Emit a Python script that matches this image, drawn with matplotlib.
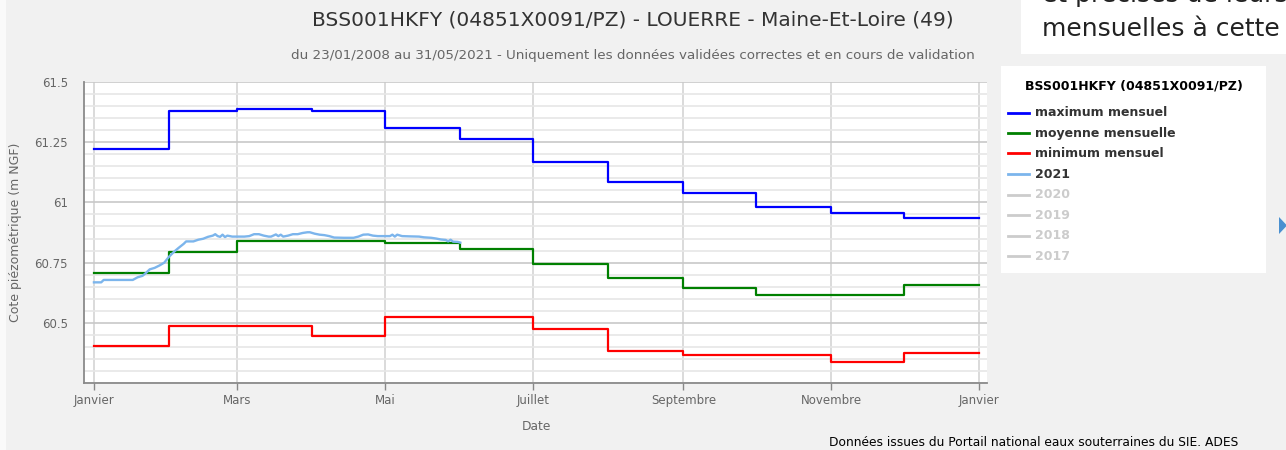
import matplotlib
matplotlib.use("Agg")
import matplotlib.pyplot as plt
from matplotlib.lines import Line2D
from matplotlib.patches import Rectangle, Polygon
from matplotlib.ticker import FixedLocator, FixedFormatter

# ---------------- data ----------------
month_start_days = [0, 31, 59, 90, 120, 151, 181, 212, 243, 273, 304, 334, 365]
maximum_mensuel = [61.221, 61.379, 61.388, 61.381, 61.307, 61.265, 61.168, 61.085, 61.039, 60.979, 60.956, 60.936]
moyenne_mensuelle = [60.707, 60.796, 60.838, 60.838, 60.832, 60.807, 60.746, 60.686, 60.646, 60.615, 60.616, 60.657]
minimum_mensuel = [60.404, 60.486, 60.486, 60.445, 60.526, 60.526, 60.476, 60.383, 60.367, 60.367, 60.336, 60.375]

days_2021 = [0, 3, 4, 16, 18, 20, 21, 23, 25, 27, 29, 31, 33, 35, 37, 38, 41, 43, 45, 47,
             49, 50, 51, 52, 53, 54, 55, 57, 60, 62, 64, 66, 68, 70, 72, 73, 75, 76, 77, 78,
             80, 82, 84, 86, 88, 89, 91, 93, 95, 97, 99, 103, 107, 109, 111, 113, 115, 117, 120, 122,
             123, 124, 125, 127, 130, 134, 136, 139, 141, 143, 145, 146, 147, 148, 150, 151]
level_2021 = [60.668, 60.668, 60.678, 60.678, 60.689, 60.695, 60.703, 60.722, 60.728, 60.738,
              60.750, 60.775, 60.795, 60.812, 60.828, 60.838, 60.838, 60.845, 60.849, 60.857,
              60.862, 60.868, 60.860, 60.857, 60.866, 60.856, 60.862, 60.858, 60.858, 60.858,
              60.860, 60.868, 60.868, 60.862, 60.858, 60.858, 60.867, 60.860, 60.866, 60.858,
              60.862, 60.868, 60.868, 60.873, 60.876, 60.876, 60.870, 60.866, 60.864, 60.860,
              60.854, 60.853, 60.853, 60.858, 60.866, 60.867, 60.862, 60.860, 60.860, 60.860,
              60.866, 60.858, 60.866, 60.860, 60.859, 60.858, 60.855, 60.853, 60.850, 60.846,
              60.844, 60.838, 60.845, 60.837, 60.836, 60.833]

x_tick_days = [0, 59, 120, 181, 243, 304, 365]
x_tick_labels = ["Janvier", "Mars", "Mai", "Juillet", "Septembre", "Novembre", "Janvier"]
y_tick_values = [60.5, 60.75, 61.0, 61.25, 61.5]
y_tick_labels = ["60.5", "60.75", "61", "61.25", "61.5"]
y_minor_values = [60.25, 60.3, 60.35, 60.4, 60.45, 60.55, 60.6, 60.65, 60.7, 60.8, 60.85, 60.9,
                  60.95, 61.05, 61.1, 61.15, 61.2, 61.3, 61.35, 61.4, 61.45]

legend_title = "BSS001HKFY (04851X0091/PZ)"
legend_labels = ["maximum mensuel", "moyenne mensuelle", "minimum mensuel", "2021",
                 "2020", "2019", "2018", "2017"]

# ---------------- figure ----------------
W, H = 1286, 450
BG = "#f1f1f1"
fig = plt.figure(figsize=(W / 100, H / 100), dpi=100, facecolor=BG)
plt.rcParams['font.family'] = ['DejaVu Sans']


def fx(px):
    return px / W


def fy(py):
    return 1 - py / H


# light strip at far left
fig.patches.append(Rectangle((0, 0), fx(6), 1, transform=fig.transFigure,
                             facecolor="#fafafa", edgecolor="none", zorder=0))

ax = fig.add_axes([fx(84), fy(383), fx(987 - 84), (383 - 82) / H])
ax.set_facecolor("white")

ax.set_xlim(-4.1, 368.1)
ax.set_ylim(60.25, 61.5)

ax.step(month_start_days, maximum_mensuel + [maximum_mensuel[-1]], where="post",
        color="#0000ff", lw=1.6, zorder=3)
ax.step(month_start_days, moyenne_mensuelle + [moyenne_mensuelle[-1]], where="post",
        color="#008000", lw=1.6, zorder=3)
ax.step(month_start_days, minimum_mensuel + [minimum_mensuel[-1]], where="post",
        color="#ff0000", lw=1.6, zorder=3)
ax.plot(days_2021, level_2021, color="#7cb5ec", lw=1.7, zorder=4)

# ticks & grid
ax.xaxis.set_major_locator(FixedLocator(x_tick_days))
ax.xaxis.set_major_formatter(FixedFormatter(x_tick_labels))
ax.yaxis.set_major_locator(FixedLocator(y_tick_values))
ax.yaxis.set_major_formatter(FixedFormatter(y_tick_labels))
ax.yaxis.set_minor_locator(FixedLocator(y_minor_values))

ax.grid(axis="x", which="major", color="#d4d4d4", lw=1.2, zorder=1)
ax.grid(axis="y", which="major", color="#c8c8c8", lw=1.2, zorder=1)
ax.grid(axis="y", which="minor", color="#e6e6e6", lw=1.2, zorder=1)
ax.set_axisbelow(True)

ax.tick_params(axis="x", which="major", length=5, width=1, color="#888888",
               labelsize=8.5, labelcolor="#666666", pad=3)
ax.tick_params(axis="y", which="both", length=0, labelsize=8.5, labelcolor="#666666", pad=11.5)
for lbl in ax.get_yticklabels():
    lbl.set_y(lbl.get_position()[1])

for s in ("top", "right"):
    ax.spines[s].set_visible(False)
for s in ("left", "bottom"):
    ax.spines[s].set_color("#8a8a8a")
    ax.spines[s].set_linewidth(1.3)

ax.set_ylabel("Cote piézométrique (m NGF)", fontsize=9, color="#666666")
ax.yaxis.set_label_coords((22 - 84) / (987 - 84), 0.5)

# texts
fig.text(fx(633), fy(20), "BSS001HKFY (04851X0091/PZ) - LOUERRE - Maine-Et-Loire (49)",
         ha="center", va="center", fontsize=14.5, color="#333333")
fig.text(fx(633), fy(55),
         "du 23/01/2008 au 31/05/2021 - Uniquement les données validées correctes et en cours de validation",
         ha="center", va="center", fontsize=9.7, color="#666666")
fig.text(fx(536), fy(427), "Date", ha="center", va="center", fontsize=8.8, color="#666666")
fig.text(fx(1238), fy(443), "Données issues du Portail national eaux souterraines du SIE. ADES",
         ha="right", va="center", fontsize=8.85, color="#000000")

# legend box (manual)
fig.patches.append(Rectangle((fx(1001), fy(273)), fx(1266 - 1001), (273 - 66) / H,
                             transform=fig.transFigure, facecolor="white", edgecolor="none", zorder=1))
fig.text(fx(1134), fy(86), legend_title, ha="center", va="center", fontsize=9,
         fontweight="bold", color="#000000", zorder=2)
legend_colors = ["#0000ff", "#008000", "#ff0000", "#7cb5ec",
                 "#cccccc", "#cccccc", "#cccccc", "#cccccc"]
legend_text_colors = ["#333333"] * 4 + ["#cccccc"] * 4
legend_rows = [112.5, 133, 153, 174, 194.5, 215, 235.5, 256]
for lab, c, tc, ry in zip(legend_labels, legend_colors, legend_text_colors, legend_rows):
    fig.lines.append(Line2D([fx(1008), fx(1029)], [fy(ry), fy(ry)], transform=fig.transFigure,
                            color=c, lw=2.0, zorder=2))
    fig.text(fx(1035), fy(ry), lab, ha="left", va="center", fontsize=9, fontweight="bold",
             color=tc, zorder=2)

# legend navigation arrow
fig.patches.append(Polygon([[fx(1279), fy(217)], [fx(1279), fy(234)], [fx(1287), fy(225.5)]],
                           closed=True, transform=fig.transFigure, facecolor="#4a90d0",
                           edgecolor="none"))

# overlay box from the page (top right)
fig.patches.append(Rectangle((fx(1021), fy(54)), fx(300), 54 / H, transform=fig.transFigure,
                             facecolor="white", edgecolor="none", zorder=1))
fig.text(fx(1042), fy(2), "et précises de leurs", ha="left", va="baseline", fontsize=18,
         color="#222222", zorder=2)
fig.text(fx(1042), fy(36), "mensuelles à cette", ha="left", va="baseline", fontsize=18,
         color="#222222", zorder=2)

fig.savefig("out.png", dpi=100, facecolor=BG)
